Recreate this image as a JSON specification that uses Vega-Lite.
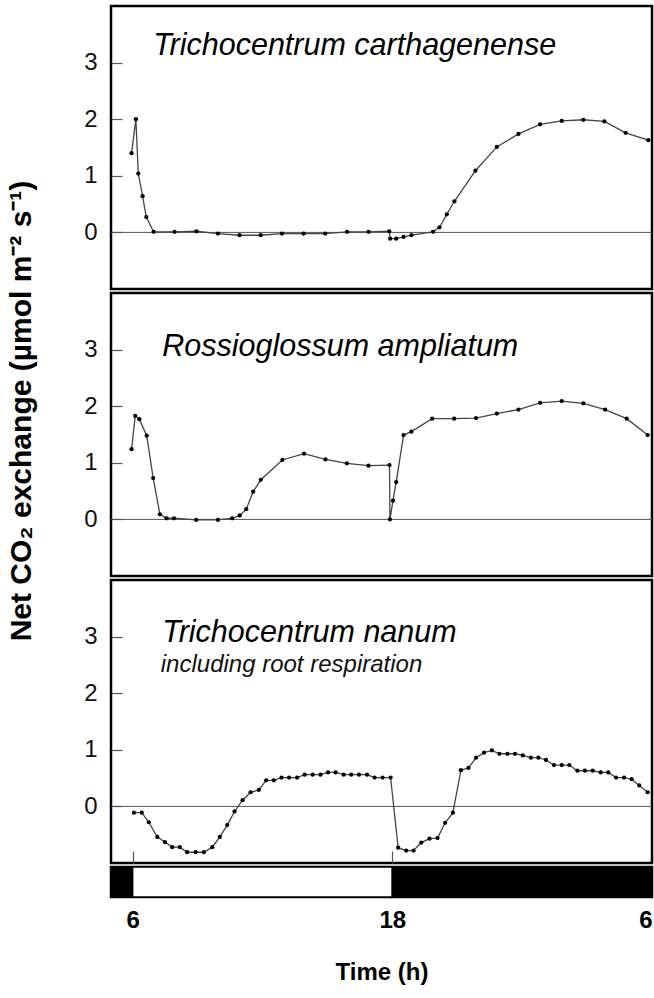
{
  "$schema": "https://vega.github.io/schema/vega-lite/v6.json",
  "padding": {"left": 7, "top": 4, "right": 2, "bottom": 4},
  "spacing": 0,
  "config": {
    "font": "Liberation Sans",
    "view": {"stroke": "black", "strokeWidth": 2.5},
    "axis": {"grid": false, "domain": false, "labelFont": "Liberation Sans", "labelColor": "#111", "tickColor": "#555", "tickWidth": 1.2},
    "concat": {"spacing": 0}
  },
  "title": {"text": "Net CO₂ exchange (µmol m⁻² s⁻¹)", "orient": "left", "anchor": "middle", "fontSize": 30, "fontWeight": "bold", "font": "Liberation Sans", "color": "black", "offset": 45, "dx": 84},
  "datasets": {
    "carthagenense": [
      {"hour": 5.95, "value": 1.40}, {"hour": 6.15, "value": 2.00}, {"hour": 6.26, "value": 1.04}, {"hour": 6.46, "value": 0.64},
      {"hour": 6.63, "value": 0.27}, {"hour": 6.97, "value": 0.01}, {"hour": 7.94, "value": 0.01}, {"hour": 8.95, "value": 0.02},
      {"hour": 9.94, "value": -0.02}, {"hour": 10.94, "value": -0.05}, {"hour": 11.92, "value": -0.05}, {"hour": 12.90, "value": -0.02},
      {"hour": 13.90, "value": -0.02}, {"hour": 14.90, "value": -0.02}, {"hour": 15.91, "value": 0.01}, {"hour": 16.90, "value": 0.01},
      {"hour": 17.86, "value": 0.02}, {"hour": 17.90, "value": -0.11}, {"hour": 18.18, "value": -0.11}, {"hour": 18.52, "value": -0.08},
      {"hour": 18.88, "value": -0.05}, {"hour": 19.88, "value": 0.01}, {"hour": 20.18, "value": 0.09}, {"hour": 20.52, "value": 0.32},
      {"hour": 20.87, "value": 0.55}, {"hour": 21.84, "value": 1.09}, {"hour": 22.83, "value": 1.51}, {"hour": 23.83, "value": 1.74},
      {"hour": 24.83, "value": 1.91}, {"hour": 25.83, "value": 1.97}, {"hour": 26.83, "value": 1.99}, {"hour": 27.80, "value": 1.96},
      {"hour": 28.78, "value": 1.76}, {"hour": 29.83, "value": 1.63}
    ],
    "ampliatum": [
      {"hour": 5.95, "value": 1.24}, {"hour": 6.12, "value": 1.83}, {"hour": 6.31, "value": 1.77}, {"hour": 6.65, "value": 1.48},
      {"hour": 6.95, "value": 0.73}, {"hour": 7.26, "value": 0.09}, {"hour": 7.57, "value": 0.02}, {"hour": 7.91, "value": 0.02},
      {"hour": 8.94, "value": -0.01}, {"hour": 9.94, "value": -0.01}, {"hour": 10.60, "value": 0.02}, {"hour": 10.95, "value": 0.07},
      {"hour": 11.25, "value": 0.18}, {"hour": 11.57, "value": 0.49}, {"hour": 11.92, "value": 0.70}, {"hour": 12.92, "value": 1.05},
      {"hour": 13.92, "value": 1.16}, {"hour": 14.91, "value": 1.06}, {"hour": 15.90, "value": 0.99}, {"hour": 16.90, "value": 0.95},
      {"hour": 17.87, "value": 0.96}, {"hour": 17.89, "value": 0.00}, {"hour": 18.03, "value": 0.33}, {"hour": 18.18, "value": 0.66},
      {"hour": 18.52, "value": 1.49}, {"hour": 18.88, "value": 1.55}, {"hour": 19.84, "value": 1.78}, {"hour": 20.86, "value": 1.78},
      {"hour": 21.87, "value": 1.79}, {"hour": 22.83, "value": 1.87}, {"hour": 23.83, "value": 1.94}, {"hour": 24.83, "value": 2.06},
      {"hour": 25.83, "value": 2.09}, {"hour": 26.83, "value": 2.05}, {"hour": 27.83, "value": 1.94}, {"hour": 28.83, "value": 1.78},
      {"hour": 29.80, "value": 1.49}
    ],
    "nanum": [
      {"hour": 6.06, "value": -0.11}, {"hour": 6.42, "value": -0.11}, {"hour": 6.75, "value": -0.28}, {"hour": 7.14, "value": -0.54},
      {"hour": 7.49, "value": -0.63}, {"hour": 7.83, "value": -0.72}, {"hour": 8.18, "value": -0.72}, {"hour": 8.52, "value": -0.81},
      {"hour": 8.91, "value": -0.81}, {"hour": 9.29, "value": -0.81}, {"hour": 9.68, "value": -0.72}, {"hour": 10.03, "value": -0.54},
      {"hour": 10.37, "value": -0.33}, {"hour": 10.71, "value": -0.09}, {"hour": 11.08, "value": 0.11}, {"hour": 11.45, "value": 0.25},
      {"hour": 11.83, "value": 0.29}, {"hour": 12.17, "value": 0.46}, {"hour": 12.52, "value": 0.46}, {"hour": 12.88, "value": 0.51},
      {"hour": 13.23, "value": 0.51}, {"hour": 13.60, "value": 0.51}, {"hour": 13.95, "value": 0.56}, {"hour": 14.32, "value": 0.56},
      {"hour": 14.68, "value": 0.56}, {"hour": 15.03, "value": 0.60}, {"hour": 15.38, "value": 0.60}, {"hour": 15.75, "value": 0.56},
      {"hour": 16.10, "value": 0.56}, {"hour": 16.46, "value": 0.56}, {"hour": 16.83, "value": 0.56}, {"hour": 17.18, "value": 0.51},
      {"hour": 17.55, "value": 0.51}, {"hour": 17.92, "value": 0.51}, {"hour": 18.27, "value": -0.73}, {"hour": 18.64, "value": -0.78},
      {"hour": 18.98, "value": -0.78}, {"hour": 19.34, "value": -0.64}, {"hour": 19.72, "value": -0.57}, {"hour": 20.09, "value": -0.56},
      {"hour": 20.44, "value": -0.29}, {"hour": 20.80, "value": -0.11}, {"hour": 21.17, "value": 0.64}, {"hour": 21.52, "value": 0.68},
      {"hour": 21.87, "value": 0.86}, {"hour": 22.24, "value": 0.95}, {"hour": 22.60, "value": 0.99}, {"hour": 22.95, "value": 0.93},
      {"hour": 23.32, "value": 0.93}, {"hour": 23.67, "value": 0.93}, {"hour": 24.03, "value": 0.90}, {"hour": 24.40, "value": 0.86},
      {"hour": 24.75, "value": 0.86}, {"hour": 25.10, "value": 0.82}, {"hour": 25.47, "value": 0.73}, {"hour": 25.83, "value": 0.73},
      {"hour": 26.18, "value": 0.73}, {"hour": 26.55, "value": 0.63}, {"hour": 26.90, "value": 0.63}, {"hour": 27.26, "value": 0.63},
      {"hour": 27.63, "value": 0.60}, {"hour": 27.98, "value": 0.60}, {"hour": 28.34, "value": 0.51}, {"hour": 28.71, "value": 0.51},
      {"hour": 29.06, "value": 0.48}, {"hour": 29.41, "value": 0.37}, {"hour": 29.80, "value": 0.25}
    ],
    "photoperiod": [
      {"start": 5, "end": 6, "phase": "dark"},
      {"start": 6, "end": 18, "phase": "light"},
      {"start": 18, "end": 30, "phase": "dark"}
    ]
  },
  "vconcat": [
    {
      "width": 541, "height": 283,
      "layer": [
        {"data": {"values": [{}]}, "mark": {"type": "rule", "color": "#555", "strokeWidth": 1}, "encoding": {"y": {"datum": 0, "type": "quantitative"}}},
        {"data": {"name": "carthagenense"}, "mark": {"type": "line", "color": "#444", "strokeWidth": 1.3},
         "encoding": {"x": {"field": "hour", "type": "quantitative", "scale": {"domain": [5, 30], "nice": false}, "axis": null},
                      "y": {"field": "value", "type": "quantitative", "scale": {"domain": [-1, 4], "nice": false},
                            "axis": {"values": [0, 1, 2, 3], "format": "d", "title": null, "tickSize": -11, "labelPadding": 25, "labelFontSize": 24}}}},
        {"data": {"name": "carthagenense"}, "mark": {"type": "point", "filled": true, "color": "black", "size": 18, "opacity": 1},
         "encoding": {"x": {"field": "hour", "type": "quantitative"}, "y": {"field": "value", "type": "quantitative"}}},
        {"data": {"values": [{"label": "Trichocentrum carthagenense"}]},
         "mark": {"type": "text", "fontStyle": "italic", "fontSize": 30.5, "align": "left", "baseline": "alphabetic", "color": "black"},
         "encoding": {"x": {"datum": 6.95, "type": "quantitative"}, "y": {"datum": 3.14, "type": "quantitative"}, "text": {"field": "label"}}}
      ]
    },
    {
      "width": 541, "height": 283,
      "layer": [
        {"data": {"values": [{}]}, "mark": {"type": "rule", "color": "#555", "strokeWidth": 1}, "encoding": {"y": {"datum": 0, "type": "quantitative"}}},
        {"data": {"name": "ampliatum"}, "mark": {"type": "line", "color": "#444", "strokeWidth": 1.3},
         "encoding": {"x": {"field": "hour", "type": "quantitative", "scale": {"domain": [5, 30], "nice": false}, "axis": null},
                      "y": {"field": "value", "type": "quantitative", "scale": {"domain": [-1, 4], "nice": false},
                            "axis": {"values": [0, 1, 2, 3], "format": "d", "title": null, "tickSize": -11, "labelPadding": 25, "labelFontSize": 24}}}},
        {"data": {"name": "ampliatum"}, "mark": {"type": "point", "filled": true, "color": "black", "size": 18, "opacity": 1},
         "encoding": {"x": {"field": "hour", "type": "quantitative"}, "y": {"field": "value", "type": "quantitative"}}},
        {"data": {"values": [{"label": "Rossioglossum ampliatum"}]},
         "mark": {"type": "text", "fontStyle": "italic", "fontSize": 30.5, "align": "left", "baseline": "alphabetic", "color": "black"},
         "encoding": {"x": {"datum": 7.37, "type": "quantitative"}, "y": {"datum": 2.88, "type": "quantitative"}, "text": {"field": "label"}}}
      ]
    },
    {
      "width": 541, "height": 283,
      "layer": [
        {"data": {"values": [{}]}, "mark": {"type": "rule", "color": "#555", "strokeWidth": 1}, "encoding": {"y": {"datum": 0, "type": "quantitative"}}},
        {"data": {"name": "nanum"}, "mark": {"type": "line", "color": "#444", "strokeWidth": 1.3},
         "encoding": {"x": {"field": "hour", "type": "quantitative", "scale": {"domain": [5, 30], "nice": false},
                            "axis": {"values": [6, 18], "labels": false, "title": null, "tickSize": -12, "domain": false}},
                      "y": {"field": "value", "type": "quantitative", "scale": {"domain": [-1, 4], "nice": false},
                            "axis": {"values": [0, 1, 2, 3], "format": "d", "title": null, "tickSize": -11, "labelPadding": 25, "labelFontSize": 24}}}},
        {"data": {"name": "nanum"}, "mark": {"type": "point", "filled": true, "color": "black", "size": 18, "opacity": 1},
         "encoding": {"x": {"field": "hour", "type": "quantitative"}, "y": {"field": "value", "type": "quantitative"}}},
        {"data": {"values": [{"label": "Trichocentrum nanum"}]},
         "mark": {"type": "text", "fontStyle": "italic", "fontSize": 30.5, "align": "left", "baseline": "alphabetic", "color": "black"},
         "encoding": {"x": {"datum": 7.37, "type": "quantitative"}, "y": {"datum": 2.91, "type": "quantitative"}, "text": {"field": "label"}}},
        {"data": {"values": [{"label": "including root respiration"}]},
         "mark": {"type": "text", "fontStyle": "italic", "fontSize": 24, "align": "left", "baseline": "alphabetic", "color": "#111"},
         "encoding": {"x": {"datum": 7.3, "type": "quantitative"}, "y": {"datum": 2.38, "type": "quantitative"}, "text": {"field": "label"}}}
      ]
    },
    {
      "width": 541, "height": 30,
      "data": {"name": "photoperiod"},
      "mark": {"type": "rect", "stroke": "black", "strokeWidth": 1.5},
      "encoding": {
        "x": {"field": "start", "type": "quantitative", "scale": {"domain": [5, 30], "nice": false},
              "axis": {"values": [6, 18, 30], "labelExpr": "datum.value == 30 ? '6' : datum.label", "ticks": false, "domain": false,
                       "labelFontSize": 24, "labelFontWeight": "bold", "labelColor": "black", "labelPadding": 11,
                       "title": "Time (h)", "titleFontSize": 24, "titleFontWeight": "bold", "titleColor": "black", "titlePadding": 28}},
        "x2": {"field": "end"},
        "color": {"field": "phase", "type": "nominal", "scale": {"domain": ["dark", "light"], "range": ["black", "white"]}, "legend": null}
      }
    }
  ]
}
